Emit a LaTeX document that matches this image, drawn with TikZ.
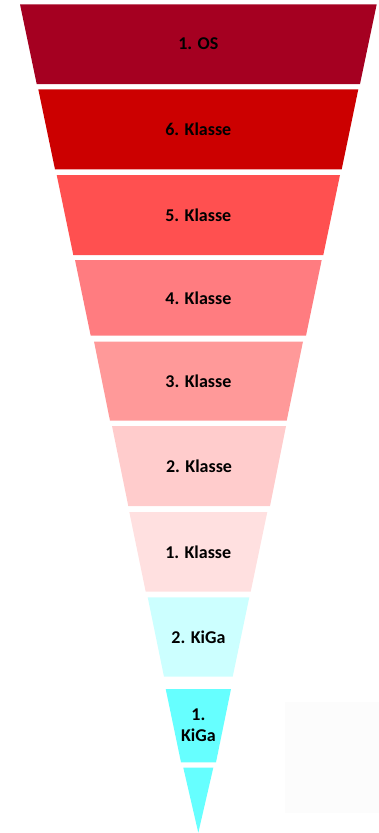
\documentclass[tikz,border=0pt]{standalone}
\usepackage{fontspec}
\setmainfont{Carlito}
\definecolor{cOS}{HTML}{A50021}
\definecolor{cK6}{HTML}{CC0000}
\definecolor{cK5}{HTML}{FF5050}
\definecolor{cK4}{HTML}{FF7C80}
\definecolor{cK3}{HTML}{FF9999}
\definecolor{cK2}{HTML}{FFCCCC}
\definecolor{cK1}{HTML}{FFE0E0}
\definecolor{cG2}{HTML}{CCFFFF}
\definecolor{cG1}{HTML}{66FFFF}
\definecolor{faint}{HTML}{FCFCFC}
\tikzset{
  lbl/.style={font=\bfseries\fontsize{18}{21}\selectfont, text=black, align=center, inner sep=0pt}
}
% #1 name, #2 colour, #3 ytop, #4 ybot, #5 xtl, #6 xtr, #7 xbl, #8 xbr, #9 label
\newcommand{\funnelseg}[9]{%
  \fill[#2] (#5,#3) -- (#6,#3) -- (#8,#4) -- (#7,#4) -- cycle;
  \node[lbl] (#1) at ({(#5+#6+#7+#8)/4},{(#3+#4)/2}) {#9};
}
\begin{document}
\begin{tikzpicture}[x=1pt,y=-1pt]
\useasboundingbox (0,0) rectangle (379,833);
\fill[faint] (285,702) rectangle (379,813);
\funnelseg{os}{cOS}{4.3}{84}{20}{376.7}{36.7}{360}{1. OS}
\funnelseg{k6}{cK6}{89.3}{169.3}{38.3}{358.3}{55}{341.7}{6. Klasse}
\funnelseg{k5}{cK5}{175}{255}{56.7}{340}{73.3}{323.3}{5. Klasse}
\funnelseg{k4}{cK4}{260}{335.7}{75}{321.7}{90.7}{306}{4. Klasse}
\funnelseg{k3}{cK3}{341.5}{420.7}{94}{303}{110}{286.7}{3. Klasse}
\funnelseg{k2}{cK2}{426}{506}{112}{286}{128.3}{270}{2. Klasse}
\funnelseg{k1}{cK1}{512}{591.7}{129.3}{267.3}{145.7}{250.7}{1. Klasse}
\funnelseg{g2}{cG2}{597.3}{676.7}{147.7}{249.3}{164}{232.7}{2. KiGa}
\funnelseg{g1}{cG1}{689}{762.3}{165.7}{231}{181}{216}{1.\\KiGa}
\fill[cG1] (183.3,767.7) -- (213.3,767.7) -- (198.3,832.7) -- cycle;
\end{tikzpicture}
\end{document}
